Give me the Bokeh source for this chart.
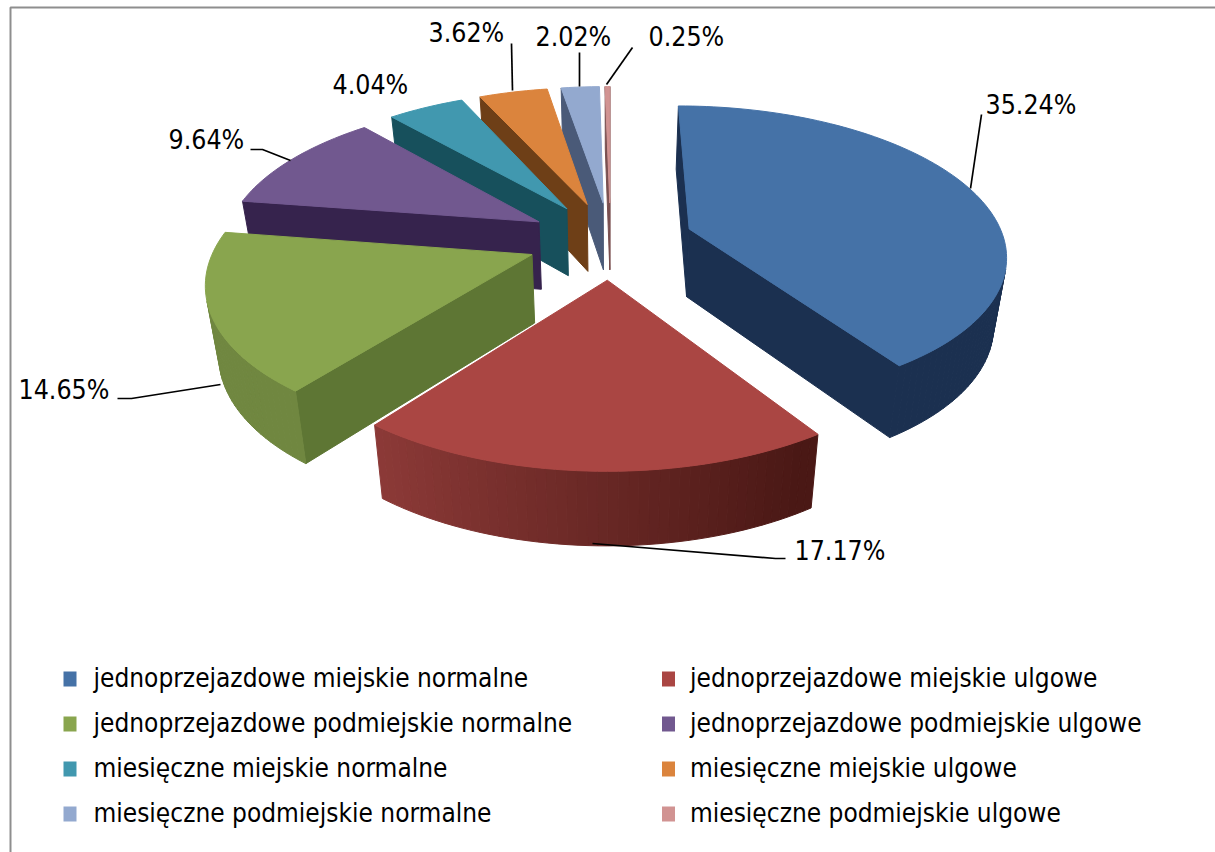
import math
from bokeh.plotting import figure
from bokeh.models import Range1d, ColumnDataSource
from bokeh.core.properties import value
from bokeh.embed import file_html
from bokeh.resources import INLINE

# ---- data ----
categories = ["jednoprzejazdowe miejskie normalne", "jednoprzejazdowe miejskie ulgowe",
              "jednoprzejazdowe podmiejskie normalne", "jednoprzejazdowe podmiejskie ulgowe",
              "miesięczne miejskie normalne", "miesięczne miejskie ulgowe",
              "miesięczne podmiejskie normalne", "miesięczne podmiejskie ulgowe"]
shares = [35.24, 17.17, 14.65, 9.64, 4.04, 3.62, 2.02, 0.25]

# ---- style ----
top_colors = ["#4572A7", "#AA4643", "#89A54E", "#71588F", "#4198AF", "#DB843D", "#93A9CF", "#D19392"]
wall_colors = ["#1b3050", "#4a1815", "#5e7634", "#36234d", "#17505c", "#6e3f17", "#4a5a78", "#7a5050"]
FONT = "DejaVu Sans Condensed"

# ---- projection (layout) ----
CX, CY, A, B, K, EXPL, ROT = 610.0, 239.5, 315.0, 146.0, 0.16, 0.264, 0.0
DEPTH, KD, CONV = 68.0, 0.07, 0.033


def project(u, v, lower=False):
    w = 1 + K * v
    x = CX + A * u / w
    y = CY - B * v / w
    if lower:
        x = CX + (x - CX) * (1 - CONV)
        y += DEPTH / (1 + KD * v)
    return x, y


def hex2rgb(c):
    return tuple(int(c[i:i + 2], 16) for i in (1, 3, 5))


def blend(dark, light, t, light_f=0.82):
    d, l = hex2rgb(dark), hex2rgb(light)
    return "#%02x%02x%02x" % tuple(int(round(a + (b * light_f - a) * t)) for a, b in zip(d, l))


def wall_t(th):
    s = math.sin(th)
    return max(0.0, min(1.0, (0.5 - s) / 1.1))


def area(q):
    return sum(q[i][0] * q[(i + 1) % 4][1] - q[(i + 1) % 4][0] * q[i][1] for i in range(4)) / 2


total = sum(shares)
order = [7, 6, 5, 4, 3, 2, 1, 0]
spans = []
acc = 0.0
for sh in shares:
    spans.append((acc, acc + sh))
    acc += sh

layers = []
for i in order:
    t0 = math.radians(ROT) + 2 * math.pi * spans[i][0] / total
    t1 = math.radians(ROT) + 2 * math.pi * spans[i][1] / total
    mid = (t0 + t1) / 2
    ou, ov = EXPL * math.sin(mid), EXPL * math.cos(mid)
    n = max(2, int(math.degrees(t1 - t0) / 1.5))
    ths = [t0 + (t1 - t0) * j / n for j in range(n + 1)]
    plan = [(ou, ov)] + [(ou + math.sin(t), ov + math.cos(t)) for t in ths]
    loop = plan + [plan[0]]
    xs, ys, cs = [], [], []
    for j in range(len(loop) - 1):
        p0, p1 = loop[j], loop[j + 1]
        q = [project(*p0), project(*p1), project(*p1, True), project(*p0, True)]
        if area(q) >= 0:
            continue
        if j == 0 or j == len(loop) - 2:
            col = wall_colors[i]
        else:
            col = blend(wall_colors[i], top_colors[i], wall_t((ths[j - 1] + ths[j]) / 2))
        xs.append([c[0] for c in q]); ys.append([c[1] for c in q]); cs.append(col)
    tp = [project(*c) for c in plan]
    xs.append([c[0] for c in tp]); ys.append([c[1] for c in tp]); cs.append(top_colors[i])
    layers.append((xs, ys, cs))

p = figure(width=1215, height=852, output_backend="svg", toolbar_location=None,
           x_range=Range1d(0, 1215), y_range=Range1d(852, 0), min_border=0,
           outline_line_color=None, background_fill_color="white")
p.axis.visible = False
p.grid.visible = False

# frame
p.line([10, 10, 1215], [852, 7, 7], line_color="#8e8e8e", line_width=2)

for xs, ys, cs in layers:
    p.patches("x", "y", fill_color="c", line_color="c", line_width=1.0,
              source=ColumnDataSource(dict(x=xs, y=ys, c=cs)))

# data labels and leaders
label_text = ["%.2f%%" % s for s in shares]
label_x = [985, 794, 18, 168, 332, 428, 535, 648]
label_mid = [104, 550, 389, 139, 84, 32, 36, 36]
leaders = [[(981, 114), (970, 188)],
           [(785, 558), (775, 558), (592, 543)],
           [(117, 398), (131, 398), (220, 384)],
           [(250, 149), (262, 149), (290, 160)],
           [],
           [(511, 43), (512, 90)],
           [(579, 52), (579, 86)],
           [(632, 47), (606, 84)]]
for seg in leaders:
    if seg:
        p.line([c[0] for c in seg], [c[1] for c in seg], line_color="black", line_width=1.7)
p.text(label_x, label_mid, text=label_text, text_font=value(FONT), text_font_size="26.5px",
       text_color="black", text_baseline="middle", text_align="left")

# legend
col_sq = [69.5, 668]
col_tx = [93, 689.5]
row_mid = [678.5, 723.5, 768.5, 813.5]
row_text = [677, 722, 767, 812]
leg_x, leg_y, leg_tx, leg_ty, leg_c = [], [], [], [], []
for i, name in enumerate(categories):
    c, r = i % 2, i // 2
    leg_x.append(col_sq[c]); leg_y.append(row_mid[r]); leg_c.append(top_colors[i])
    leg_tx.append(col_tx[c]); leg_ty.append(row_text[r])
p.rect(leg_x, leg_y, width=13, height=15, fill_color=leg_c, line_color=None)
p.text(leg_tx, leg_ty, text=categories, text_font=value(FONT), text_font_size="26px",
       text_color="black", text_baseline="middle", text_align="left")

open("out.html", "w").write(file_html(p, INLINE))
